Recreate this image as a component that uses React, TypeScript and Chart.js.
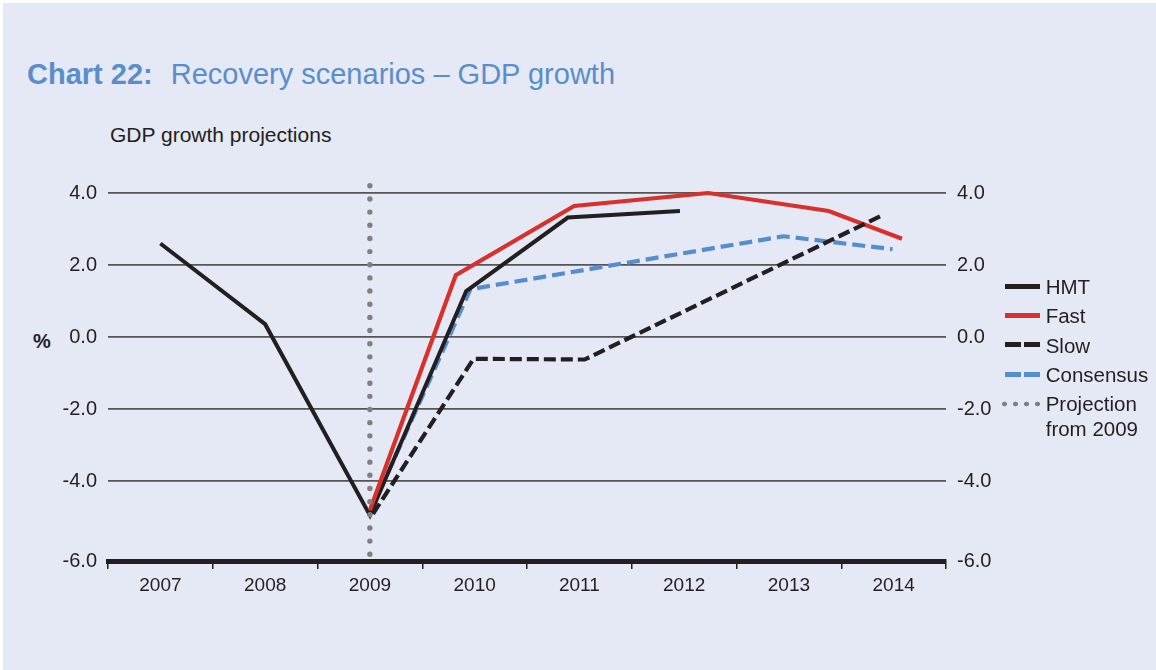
import React, { useEffect, useRef } from 'react';
import { Chart, registerables } from 'chart.js';

Chart.register(...registerables);

// ---------- data ----------
const yearLabels = ['2007', '2008', '2009', '2010', '2011', '2012', '2013', '2014'];
const xMin = 2006.5;
const xMax = 2014.5;
const yMax = 4;
const yMin = -6.21;
const yTicks = [4, 2, 0, -2, -4, -6];
const yTickLabels = ['4.0', '2.0', '0.0', '-2.0', '-4.0', '-6.0'];

const hmtX = [2007, 2008, 2009, 2009.92, 2010.89, 2011.96];
const hmtY = [2.6, 0.36, -4.94, 1.28, 3.32, 3.5];

const fastX = [2009, 2009.82, 2010.95, 2012.23, 2013.38, 2014.08];
const fastY = [-4.8, 1.72, 3.64, 4.0, 3.5, 2.73];

const slowX = [2009.03, 2009.99, 2011.05, 2013.87];
const slowY = [-4.9, -0.6, -0.62, 3.35];

const consX = [2009.02, 2009.96, 2012.95, 2013.99];
const consY = [-4.75, 1.33, 2.8, 2.44];

const projectionX = [2009, 2009];
const projectionY = [4.2, -6.05];

const seriesNames = ['HMT', 'Fast', 'Slow', 'Consensus', 'Projection from 2009'];

// ---------- styles ----------
const FONT = '"Liberation Sans", Arial, Helvetica, sans-serif';
const INK = '#231f20';
const RED = '#d8312c';
const BLUE = '#558ed0';
const GREY = '#808080';
const TITLE_BLUE = '#5a8dcb';
const BG = '#e5e8f5';

const toPoints = (xs: number[], ys: number[]) => xs.map((x, i) => ({ x, y: ys[i] }));
const tickValue = (v: number) => (v <= yTicks[yTicks.length - 1] ? yMin : v);

const legendItems = [
  { label: seriesNames[0], color: INK, kind: 'solid' },
  { label: seriesNames[1], color: RED, kind: 'solid' },
  { label: seriesNames[2], color: INK, kind: 'dash' },
  { label: seriesNames[3], color: BLUE, kind: 'dash' },
  { label: 'Projection\nfrom 2009', color: GREY, kind: 'dot' },
];

function Sample({ kind, color }: { kind: string; color: string }) {
  if (kind === 'solid') {
    return <div style={{ position: 'absolute', left: 0, top: 0, width: 35, height: 5, background: color }} />;
  }
  if (kind === 'dash') {
    return (
      <div
        style={{
          position: 'absolute',
          left: 0,
          top: 0,
          width: 35,
          height: 5,
          background: `repeating-linear-gradient(to right, ${color} 0px, ${color} 15.7px, transparent 15.7px, transparent 19.2px)`,
        }}
      />
    );
  }
  return (
    <div
      style={{
        position: 'absolute',
        left: -6,
        top: -0.5,
        width: 44,
        height: 6,
        backgroundImage: `radial-gradient(circle at center, ${color} 0px, ${color} 2.2px, transparent 2.7px)`,
        backgroundSize: '11px 6px',
        backgroundRepeat: 'repeat-x',
      }}
    />
  );
}

export default function App() {
  const canvasRef = useRef<HTMLCanvasElement | null>(null);

  useEffect(() => {
    const canvas = canvasRef.current;
    if (!canvas) return;
    const common = { pointRadius: 0, clip: false as any, xAxisID: 'x', yAxisID: 'y', borderJoinStyle: 'miter' as const, tension: 0 };
    const chart = new Chart(canvas, {
      type: 'line',
      data: {
        datasets: [
          {
            ...common,
            label: seriesNames[4],
            data: toPoints(projectionX, projectionY),
            borderColor: GREY,
            borderWidth: 5.4,
            borderDash: [0, 13.16],
            borderCapStyle: 'round',
            order: 0,
          },
          {
            ...common,
            label: seriesNames[2],
            data: toPoints(slowX, slowY),
            borderColor: INK,
            borderWidth: 4.2,
            borderDash: [12, 5],
            order: 1,
          },
          {
            ...common,
            label: seriesNames[1],
            data: toPoints(fastX, fastY),
            borderColor: RED,
            borderWidth: 4.2,
            order: 2,
          },
          {
            ...common,
            label: seriesNames[0],
            data: toPoints(hmtX, hmtY),
            borderColor: INK,
            borderWidth: 4,
            order: 3,
          },
          {
            ...common,
            label: seriesNames[3],
            data: toPoints(consX, consY),
            borderColor: BLUE,
            borderWidth: 4.2,
            borderDash: [13, 6],
            order: 4,
          },
        ],
      },
      options: {
        responsive: false,
        animation: false,
        layout: { padding: { top: 193, bottom: 69, left: 0, right: 0 } },
        plugins: { legend: { display: false }, tooltip: { enabled: false }, title: { display: false } },
        scales: {
          x: { type: 'linear', min: xMin, max: xMax, display: false },
          xc: {
            type: 'category',
            labels: yearLabels,
            position: 'bottom',
            offset: true,
            grid: { offset: true, drawOnChartArea: false, drawTicks: true, tickLength: 8, color: INK, lineWidth: 1.5 },
            border: { display: true, width: 5, color: INK },
            ticks: { font: { family: FONT, size: 19 }, color: INK, padding: 5, maxRotation: 0, autoSkip: false },
            afterFit: (s: any) => { s.height = 40; },
          },
          y: {
            type: 'linear',
            position: 'left',
            min: yMin,
            max: yMax,
            afterBuildTicks: (s: any) => { s.ticks = yTicks.map((v) => ({ value: tickValue(v) })); },
            ticks: { callback: (_v: any, i: number) => yTickLabels[i], font: { family: FONT, size: 20 }, color: INK, padding: 11 },
            grid: { color: '#555555', lineWidth: 1.8, drawTicks: false },
            border: { display: false },
            afterFit: (s: any) => { s.width = 108; },
          },
          y2: {
            type: 'linear',
            position: 'right',
            min: yMin,
            max: yMax,
            afterBuildTicks: (s: any) => { s.ticks = yTicks.map((v) => ({ value: tickValue(v) })); },
            ticks: { callback: (_v: any, i: number) => yTickLabels[i], font: { family: FONT, size: 20 }, color: INK, padding: 11 },
            grid: { display: false, drawTicks: false },
            border: { display: false },
            afterFit: (s: any) => { s.width = 210; },
          },
        },
      } as any,
    });
    return () => chart.destroy();
  }, []);

  return (
    <div style={{ position: 'absolute', left: 0, top: 0, width: 1156, height: 670, background: '#ffffff', overflow: 'hidden', fontFamily: FONT }}>
      <div style={{ position: 'absolute', left: 3, top: 3, right: 0, bottom: 0, background: BG }} />
      <div style={{ position: 'absolute', left: 27, top: 60, fontSize: 29, lineHeight: 1, color: TITLE_BLUE, whiteSpace: 'nowrap' }}>
        <span style={{ fontWeight: 'bold' }}>Chart 22:</span>
        <span style={{ marginLeft: 18 }}>Recovery scenarios – GDP growth</span>
      </div>
      <div style={{ position: 'absolute', left: 110, top: 124, fontSize: 21, lineHeight: 1, color: INK, whiteSpace: 'nowrap' }}>
        GDP growth projections
      </div>
      <div style={{ position: 'absolute', left: 33, top: 331, fontSize: 20, lineHeight: 1, color: INK, fontWeight: 'bold' }}>%</div>
      <canvas ref={canvasRef} width={1156} height={670} style={{ position: 'absolute', left: 0, top: 0, width: 1156, height: 670 }} />
      {legendItems.map((item, i) => (
        <div key={item.label} style={{ position: 'absolute', left: 1005, top: 273.75 + i * 29.4, height: 25 }}>
          <div style={{ position: 'absolute', left: 0, top: 9.8 }}>
            <Sample kind={item.kind} color={item.color} />
          </div>
          <div
            style={{
              position: 'absolute',
              left: 40.7,
              top: 0,
              fontSize: 20.5,
              lineHeight: '25px',
              color: INK,
              whiteSpace: 'pre',
            }}
          >
            {item.label}
          </div>
        </div>
      ))}
    </div>
  );
}
